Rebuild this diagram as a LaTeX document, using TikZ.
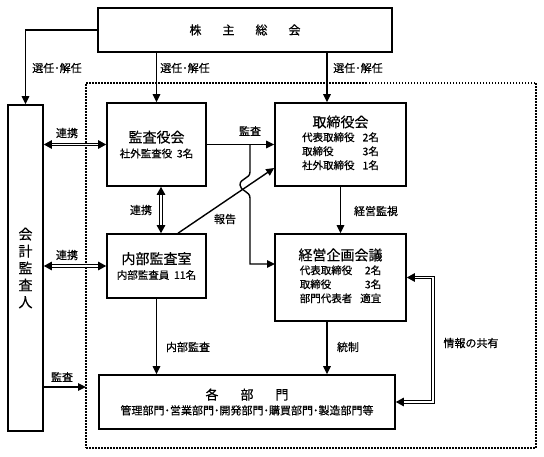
\documentclass[tikz,border=0pt]{standalone}
\usepackage{fontspec}
\setmainfont{Noto Sans CJK JP}[FakeBold=0.5]
\usetikzlibrary{arrows.meta}
\tikzset{
  box/.style={draw, line width=1.6pt, rectangle, inner sep=0pt, align=center, font=\fontsize{10.5}{14}\selectfont},
  grpbox/.style={draw, line width=1.5pt, dash pattern=on 1.5pt off 1.5pt, rectangle, inner sep=0pt},
  lab/.style={font=\fontsize{11}{13}\selectfont, inner sep=1pt},
  conn/.style={line width=1.4pt, -{Triangle[length=8pt,width=7.5pt]}},
  dbl/.style={double, double distance=1.8pt, line width=1pt, {Triangle[length=8pt,width=8.5pt]}-{Triangle[length=8pt,width=8.5pt]}},
}
\newcommand{\ttlfont}{\fontsize{14}{16}\selectfont}
\begin{document}
\begin{tikzpicture}[x=1pt,y=-1pt]
\useasboundingbox (0,0) rectangle (544,457);
% group (dotted)
\node[grpbox, minimum width=450pt, minimum height=365pt] (grp) at (311,265.5) {};
% boxes
\node[box, minimum width=294pt, minimum height=44pt, font=\fontsize{12}{14}\selectfont] (kabu) at (245,30)
  {株\hspace{21pt}主\hspace{21pt}総\hspace{21pt}会};
\node[box, minimum width=35pt, minimum height=326pt, font=\fontsize{14}{17}\selectfont] (kaikei) at (25.5,268)
  {会\\計\\監\\査\\人};
\node[box, minimum width=99pt, minimum height=83pt] (kansa) at (156.5,144.5)
  {{\ttlfont 監査役会}\\[1pt]社外監査役\ \ 3名};
\node[box, minimum width=99pt, minimum height=64pt] (naibu) at (156.5,266)
  {{\ttlfont 内部監査室}\\[1pt]内部監査員\ \ 11名};
\node[box, minimum width=131pt, minimum height=83pt] (tori) at (340.5,144.5)
  {{\ttlfont 取締役会}\\[2pt]
   \begin{tabular}{@{}l@{\hspace{8pt}}r@{}}代表取締役&2名\\取締役&3名\\社外取締役&1名\end{tabular}};
\node[box, minimum width=131pt, minimum height=87pt] (keiei) at (340.5,277.5)
  {{\ttlfont 経営企画会議}\\[2pt]
   \begin{tabular}{@{}l@{\hspace{8pt}}r@{}}代表取締役&2名\\取締役&3名\\部門代表者&適宜\end{tabular}};
\node[box, minimum width=296pt, minimum height=54pt] (kakubu) at (247,402)
  {{\fontsize{13}{15}\selectfont 各\hspace{22pt}部\hspace{22pt}門}\\[1pt]
   {\fontsize{11}{13}\selectfont 管理部門･営業部門･開発部門･購買部門･製造部門等}};
% helper coordinates
\coordinate (rx) at (327,0);
\coordinate (br) at (250,144.5);
\coordinate (kin) at (275,264);
\coordinate (dl) at (86,387);
% top arrows
\draw[conn] (kabu.west) -| (kaikei.north);
\draw[conn] (kabu.south -| kansa.north) -- (kansa.north);
\draw[conn] (kabu.south -| rx) -- (tori.north -| rx);
\node[lab] (l1) at (57,68) {選任･解任};
\node[lab] (l2) at (185,68) {選任･解任};
\node[lab] (l3) at (358,68) {選任･解任};
% double arrows 連携
\draw[dbl] (kaikei.east |- kansa.west) -- (kansa.west);
\draw[dbl] (kaikei.east |- naibu.west) -- (naibu.west);
\draw[dbl] ([xshift=4.5pt]kansa.south) -- ([xshift=4.5pt]naibu.north);
\node[lab] (l4) at (67,133) {連携};
\node[lab] (l5) at (67,255) {連携};
\node[lab] (l6) at (141,210) {連携};
% 監査 from 監査役会
\draw[conn] (kansa.east) -- (tori.west);
\node[lab] (l7) at (250,131) {監査};
% 報告
\draw[conn] ([xshift=21.5pt]naibu.north) -- ([yshift=-23.5pt]tori.west);
\node[lab] (l8) at (225,219) {報告};
% branch to 経営企画会議 with hop
\draw[conn] (br) -- (250,172) .. controls (250,179) and (240,178) .. (240,185)
  .. controls (240,191) and (250,191) .. (250,198) |- (kin);
% 経営監視
\draw[conn] (tori.south) -- (keiei.north);
\node[lab] (l9) at (376,211) {経営監視};
% 内部監査
\draw[conn] (naibu.south) -- (naibu.south |- kakubu.north);
\node[lab] (l10) at (188,347) {内部監査};
% 統制
\draw[conn] (keiei.south -| rx) -- (kakubu.north -| rx);
\node[lab] (l11) at (348,347) {統制};
% 情報の共有
\draw[dbl] (keiei.east) -- ++(26,0) |- (kakubu.east);
\node[lab] (l12) at (471,343) {情報の共有};
% 監査 from 会計監査人
\draw[conn] (kaikei.east |- dl) -- (dl);
\node[lab] (l13) at (62,377) {監査};
\end{tikzpicture}
\end{document}
